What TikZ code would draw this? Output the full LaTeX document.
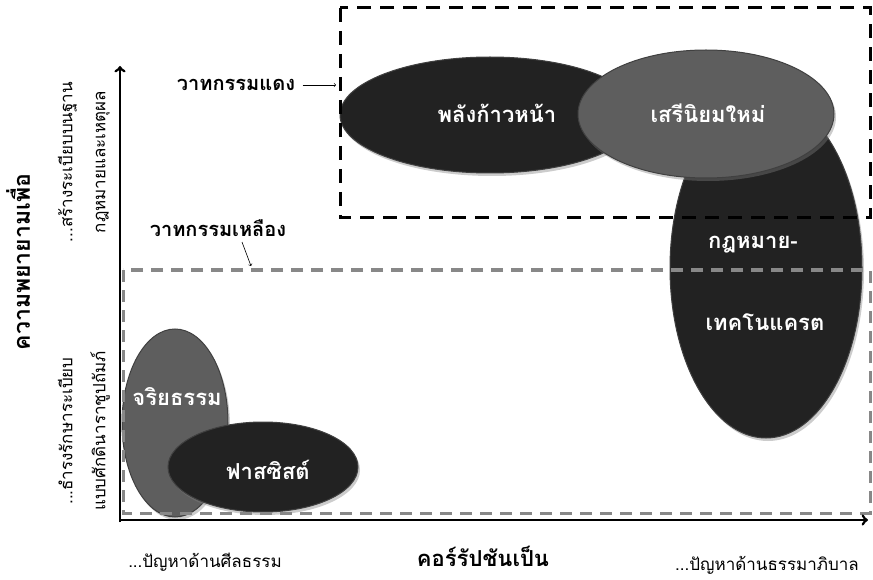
\documentclass[tikz,border=0pt]{standalone}
\usepackage{fontspec}
\setmainfont[Script=Thai]{Loma}
\usepackage{xcolor}
\usepackage{tikz}
\usetikzlibrary{shapes.geometric,shadows}

\definecolor{darkblob}{HTML}{222222}
\definecolor{greyblob}{HTML}{5E5E5E}
\definecolor{greydash}{HTML}{888888}

\begin{document}
\begin{tikzpicture}[x=1pt,y=-1pt,
		blob/.style={ellipse, inner sep=0pt, draw=black!75, line width=1pt,
			drop shadow={shadow xshift=2pt,shadow yshift=-3pt,opacity=0.4}},
		blobtext/.style={text=white, font=\bfseries\fontsize{22}{26}\selectfont},
		sidetext/.style={font=\fontsize{17}{33}\selectfont},
		headtext/.style={font=\bfseries\fontsize{20}{24}\selectfont}]
		\useasboundingbox (0,0) rectangle (873,580);
		
		% ellipses, back to front
		\node[blob, fill=darkblob, minimum width=192pt, minimum height=340pt] (techno) at (766,268) {};
		\node[blob, fill=darkblob, minimum width=300pt, minimum height=116pt] (progress) at (490,115) {};
		\node[blob, fill=greyblob, minimum width=256pt, minimum height=128pt] (neolib) at (706,114) {};
		\node[blob, fill=greyblob, minimum width=106pt, minimum height=188pt] (ethics) at (175,423) {};
		\node[blob, fill=darkblob, minimum width=190pt, minimum height=90pt] (fascist) at (263,467) {};
		
		% discourse boxes
		\draw[black, line width=3pt, dash pattern=on 14pt off 9pt] (340,8) rectangle (870,218);
		\draw[greydash, line width=3pt, dash pattern=on 12pt off 8pt] (123,270) rectangle (870,513);
		
		\node[blobtext] (progresstxt) at (497,113) {พลังก้าวหน้า};
		\node[blobtext] (neolibtxt) at (708,113) {เสรีนิยมใหม่};
		\node[blobtext] (technotxta) at (753,245) {กฎหมาย-};
		\node[blobtext] (technotxtb) at (765,322) {เทคโนแครต};
		\node[blobtext] (ethicstxt) at (177,397) {จริยธรรม};
		\node[blobtext] (fascisttxt) at (268,470) {ฟาสซิสต์};
		
		% axes
		\coordinate (origin) at (120,522);
		\coordinate (xend) at (868,520);
		\coordinate (yend) at (120,66);
		\draw[->,line width=2.8pt] (origin) -- (120,520) -- (xend);
		\draw[->,line width=2.8pt] (origin) -- (yend);
		
		% pointers to the boxes
		\node[headtext] (redlbl) at (236,85) {วาทกรรมแดง};
		\coordinate (redtip) at (336,85);
		\draw[->,semithick] ([xshift=4pt]redlbl.east) -- (redtip);
		\node[headtext] (yellowlbl) at (218,228) {วาทกรรมเหลือง};
		\coordinate (yellowtip) at (251,266);
		\draw[->,semithick] ([xshift=24pt,yshift=-2pt]yellowlbl.south) -- (yellowtip);
		
		% axis labels
		\node[rotate=90, font=\bfseries\fontsize{23}{26}\selectfont] (ytitle) at (18,262) {ความพยายามเพื่อ};
		\node[rotate=90, align=center, sidetext] (yhigh) at (84,162) {...สร้างระเบียบบนฐาน\\กฎหมายและเหตุผล};
		\node[rotate=90, align=center, sidetext] (ylow) at (84,431) {...ธำรงรักษาระเบียบ\\แบบศักดินาราชูปถัมภ์};
		\node[sidetext] (xlow) at (205,562) {...ปัญหาด้านศีลธรรม};
		\node[font=\bfseries\fontsize{22}{26}\selectfont] (xtitle) at (483,556) {คอร์รัปชันเป็น};
		\node[sidetext] (xhigh) at (767,565) {...ปัญหาด้านธรรมาภิบาล};
		
		\end{tikzpicture}
\end{document}
